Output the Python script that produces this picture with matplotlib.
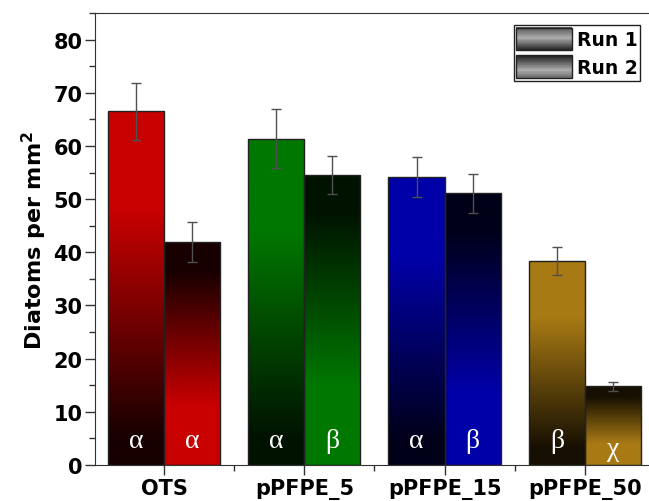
import matplotlib
matplotlib.use("Agg")
import matplotlib.pyplot as plt
import numpy as np
from matplotlib.colors import LinearSegmentedColormap
from matplotlib.legend_handler import HandlerBase
from matplotlib.patches import Rectangle
from matplotlib.ticker import MultipleLocator, FixedLocator

plt.rcParams['font.family'] = ['DejaVu Sans']
plt.rcParams['mathtext.fontset'] = 'dejavusans'

# Data
categories = ["OTS", "pPFPE_5", "pPFPE_15", "pPFPE_50"]
run1 = [66.5, 61.4, 54.2, 38.4]
run1_err = [5.4, 5.5, 3.8, 2.6]
run2 = [41.9, 54.6, 51.1, 14.8]
run2_err = [3.8, 3.6, 3.7, 0.9]
letters_run1 = ["α", "α", "α", "β"]
letters_run2 = ["α", "β", "β", "χ"]
colors = ["#c80000", "#007800", "#0000a8", "#a87a14"]
darks = ["#180000", "#001300", "#000018", "#160f02"]


def gradient_bar(ax, x, h, w, col, dark, stops):
    bar = ax.bar(x, h, w, facecolor='none', edgecolor='#222222', linewidth=1, zorder=3)[0]
    cmap = LinearSegmentedColormap.from_list("g", [(0, dark), (1, col)])
    t = np.linspace(0, 1, 256)
    grad = np.interp(t, stops[0], stops[1]).reshape(-1, 1)
    im = ax.imshow(grad, cmap=cmap, vmin=0, vmax=1, origin='lower', aspect='auto',
                   extent=[x - w / 2, x + w / 2, 0, h], zorder=2, interpolation='bilinear')
    im.set_clip_path(bar)


class GradientHandler(HandlerBase):
    def __init__(self, profile):
        super().__init__()
        self.profile = profile

    def create_artists(self, legend, orig_handle, xdescent, ydescent, width, height, fontsize, trans):
        n = 30
        artists = []
        for i in range(n):
            f = i / (n - 1)
            g = np.interp(f, self.profile[0], self.profile[1])
            artists.append(Rectangle((-xdescent, -ydescent + i * height / n), width, height / n + 0.3,
                                     facecolor=(g, g, g), edgecolor='none', transform=trans))
        artists.append(Rectangle((-xdescent, -ydescent), width, height, facecolor='none',
                                 edgecolor='#222222', linewidth=1, transform=trans))
        return artists


fig = plt.figure(figsize=(6.49, 5.02), dpi=100)
ax = fig.add_axes([0.1464, 0.0717, 0.8536, 0.9003])

w = 0.4
x = np.arange(len(categories))
stops1 = ([0, 0.08, 0.72, 1], [0, 0, 1, 1])
stops2 = ([0, 0.27, 0.87, 1], [1, 1, 0, 0])
for i in range(len(categories)):
    gradient_bar(ax, x[i] - w / 2, run1[i], w, colors[i], darks[i], stops1)
    gradient_bar(ax, x[i] + w / 2, run2[i], w, colors[i], darks[i], stops2)
    for xx, let in [(x[i] - w / 2, letters_run1[i]), (x[i] + w / 2, letters_run2[i])]:
        yy = 3.1 if let == "χ" else 4.6
        ax.text(xx, yy, let, color='white', fontsize=20, family='Liberation Serif',
                ha='center', va='center', zorder=5)

ax.errorbar(x - w / 2, run1, yerr=run1_err, fmt='none', ecolor='#505050',
            elinewidth=1, capsize=3.5, capthick=1, zorder=4)
ax.errorbar(x + w / 2, run2, yerr=run2_err, fmt='none', ecolor='#505050',
            elinewidth=1, capsize=3.5, capthick=1, zorder=4)

ax.set_xlim(-0.492, 3.457)
ax.set_ylim(0, 85)
ax.set_xticks(x)
ax.set_xticklabels(categories, fontsize=15, fontweight='bold')
ax.xaxis.set_minor_locator(FixedLocator(x[:-1] + 0.5))
ax.yaxis.set_minor_locator(MultipleLocator(5))
ax.set_yticks(np.arange(0, 81, 10))
for lab in ax.get_yticklabels():
    lab.set_fontweight('bold')
    lab.set_fontsize(15)
ax.tick_params(which='major', length=7, width=1, color='#333333', pad=2)
ax.tick_params(which='minor', length=4, width=1, color='#333333')
ax.spines['right'].set_visible(False)
for s in ['left', 'top', 'bottom']:
    ax.spines[s].set_color('#333333')
ax.set_ylabel("Diatoms per mm$\\mathbf{^2}$", fontsize=16, fontweight='bold', labelpad=3)

h1 = Rectangle((0, 0), 1, 1)
h2 = Rectangle((0, 0), 1, 1)
prof1 = ([0, 0.55, 1], [0.13, 0.68, 0.35])
prof2 = ([0, 0.35, 1], [0.4, 0.68, 0.13])
leg = ax.legend([h1, h2], ["Run 1", "Run 2"], loc='upper right', bbox_to_anchor=(0.984, 0.973),
                handler_map={h1: GradientHandler(prof1), h2: GradientHandler(prof2)},
                prop={'weight': 'bold', 'size': 13.5}, frameon=True, fancybox=False,
                edgecolor='#222222', framealpha=1, borderpad=0.12, handlelength=3.0,
                handleheight=1.5, handletextpad=0.25, labelspacing=0.27, borderaxespad=0)
leg.get_frame().set_linewidth(1)

plt.savefig("out.png", dpi=100)
